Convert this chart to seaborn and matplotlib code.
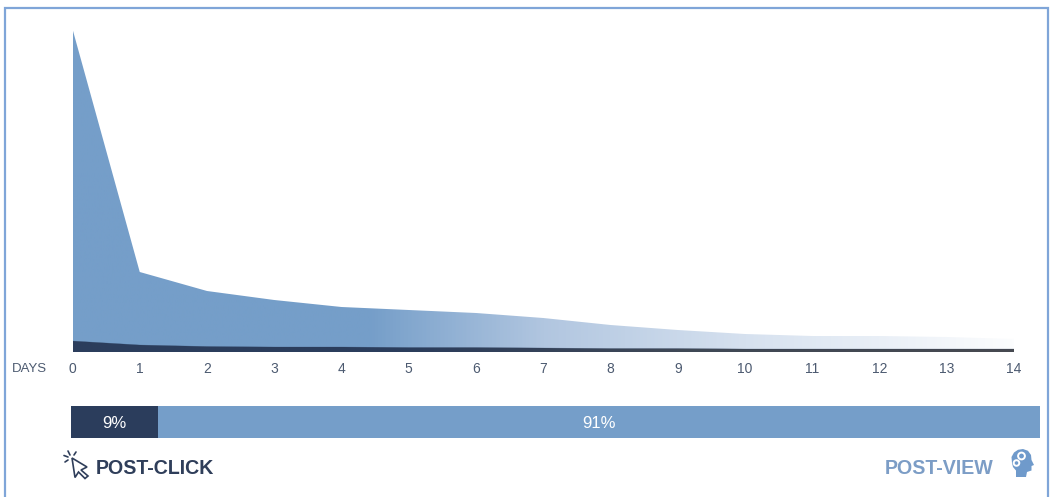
import matplotlib
matplotlib.use("Agg")
import matplotlib.pyplot as plt
from matplotlib.colors import LinearSegmentedColormap
from matplotlib.patches import Circle, Polygon
import numpy as np
import seaborn as sns

# Conversions per day after exposure (relative scale)
days = list(range(15))
post_view = [323, 80, 61, 52, 45, 42, 39, 34, 27, 22, 18, 16, 16, 15, 13]
post_click = [11, 7, 5.5, 5, 5, 4.5, 4.5, 4, 3.5, 3.5, 3, 3, 3, 3, 3]

# Overall split
post_click_share = 9
post_view_share = 91

BLUE = "#759EC9"
NAVY = "#2B3D5C"
BORDER = "#7FA5D8"
TICK = "#4C5A70"
W, H = 1051, 497

sns.set_theme(style="white")
plt.rcParams["font.family"] = ["Liberation Sans", "DejaVu Sans"]

fig = plt.figure(figsize=(W / 100, H / 100), dpi=100, facecolor="white")


def px_axes(left, top, right, bottom, **kw):
    return fig.add_axes(
        [left / W, 1 - bottom / H, (right - left) / W, (bottom - top) / H], **kw
    )


def gradient_fill(axis, values, cmap, zorder):
    """Fill under a series with a left-to-right colour ramp."""
    shape = axis.fill_between(days, values, 0, color="none", linewidth=0)
    ramp = axis.imshow(
        np.linspace(0, 1, 512).reshape(1, -1),
        cmap=cmap,
        extent=(0, 14, 0, 352),
        aspect="auto",
        zorder=zorder,
    )
    ramp.set_clip_path(shape.get_paths()[0], transform=axis.transData)


# Area chart: the post-view area fades out toward day 14
ax = px_axes(72.5, 0, 1014, 352)
ax.set_xlim(0, 14)
ax.set_ylim(0, 352)
view_fade = LinearSegmentedColormap.from_list(
    "view_fade",
    [
        (0.0, BLUE),
        (4.4 / 14, BLUE),
        (7.0 / 14, "#B1C6E0"),
        (10.0 / 14, "#D6E1EF"),
        (1.0, "#FCFDFE"),
    ],
)
click_fade = LinearSegmentedColormap.from_list(
    "click_fade",
    [(0.0, NAVY), (5.0 / 14, NAVY), (9.0 / 14, "#3F4856"), (1.0, "#474A50")],
)
gradient_fill(ax, post_view, view_fade, 1)
gradient_fill(ax, post_click, click_fade, 2)
sns.lineplot(x=days, y=post_click, ax=ax, color=NAVY, linewidth=0.3, alpha=0.5, zorder=3)
ax.set_xlim(0, 14)
ax.set_ylim(0, 352)
ax.set_xticks(days)
ax.set_xticklabels([str(d) for d in days], fontsize=10, color=TICK)
ax.set_yticks([])
ax.tick_params(axis="x", length=0, pad=7)
sns.despine(ax=ax, left=True, bottom=True)
ax.patch.set_alpha(0)

# Share bar
bar = px_axes(70.5, 406, 1040, 438)
sns.barplot(x=[post_view_share], y=["share"], left=[post_click_share], color=BLUE,
            saturation=1, width=1, linewidth=0, ax=bar)
sns.barplot(x=[post_click_share], y=["share"], color=NAVY,
            saturation=1, width=1, linewidth=0, ax=bar)
bar.set_xlim(0, 100)
bar.set_ylim(0.5, -0.5)
bar.set_axis_off()
bar.text(post_click_share / 2, 0.05, f"{post_click_share}%", color="white", fontsize=12,
         ha="center", va="center")
bar.text(post_click_share + post_view_share / 2, 0.05, f"{post_view_share}%", color="white",
         fontsize=12, ha="center", va="center")

# Pixel-space overlay for the frame, labels and icons
ov = fig.add_axes([0, 0, 1, 1], zorder=5)
ov.set_xlim(0, W)
ov.set_ylim(H, 0)
ov.set_axis_off()
ov.patch.set_alpha(0)

ov.plot([5, 5, 1048, 1048], [H, 8, 8, H], color=BORDER, linewidth=1.6,
        solid_joinstyle="miter")

ov.text(12, 369, "DAYS", fontsize=9.5, color=TICK, va="center", ha="left")
ov.text(96, 468, "POST-CLICK", fontsize=14.1, fontweight="bold", color="#2F3E5A",
        va="center", ha="left")
ov.text(994, 468, "POST-VIEW", fontsize=14.1, fontweight="bold", color="#7C9DC6",
        va="center", ha="right")

# Cursor icon
cursor = [(72, 458), (87, 467), (81, 470), (88, 476), (85, 478.5), (78.5, 472), (75, 477.5)]
ov.add_patch(Polygon(cursor, closed=True, facecolor="white", edgecolor="#2F3E5A",
                     linewidth=1.2))
for x0, y0, x1, y1 in [(70, 455, 68, 451), (74, 455, 76, 452), (68, 457, 64, 455.5),
                       (68, 460, 65, 462)]:
    ov.plot([x0, x1], [y0, y1], color="#2F3E5A", linewidth=1.2)

# Head-with-gears icon
head = [(1012, 463), (1011.5, 457), (1014, 452.5), (1018, 449.8), (1023, 449), (1028, 450.8),
        (1031, 455), (1031.5, 460), (1034, 465), (1031.5, 466), (1031.5, 470.5),
        (1027, 472), (1026, 477), (1016, 477), (1016, 470.5), (1013, 467)]
ov.add_patch(Polygon(head, closed=True, facecolor="#6F9ACB", edgecolor="none"))
for cx, cy, r in [(1021.5, 456, 3.4), (1016.5, 463, 2.8)]:
    ov.add_patch(Circle((cx, cy), r, facecolor="#6F9ACB", edgecolor="white", linewidth=1.4))

fig.savefig("out.png", dpi=100, facecolor="white")
